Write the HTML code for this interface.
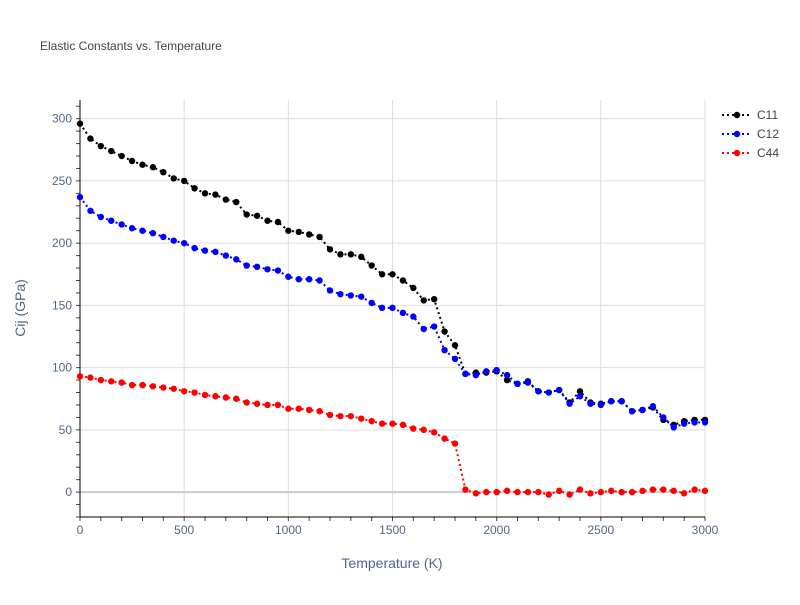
<!DOCTYPE html>
<html><head><meta charset="utf-8"><style>
body{margin:0;background:#fff;font-family:"Liberation Sans",Arial,sans-serif}
svg text{font-family:"Liberation Sans",Arial,sans-serif}
</style></head><body>
<svg id="chart" width="800" height="600" xmlns="http://www.w3.org/2000/svg">
<rect width="800" height="600" fill="#fff"/>
<text x="40" y="50" font-size="12" fill="#444">Elastic Constants vs. Temperature</text>
<g id="grid"></g><g id="axes"></g><g id="series"></g><g id="legend"></g>
<text x="392" y="568" font-size="14" fill="#506784" text-anchor="middle">Temperature (K)</text>
<text transform="translate(25,308) rotate(-90)" font-size="14" fill="#506784" text-anchor="middle">Cij (GPa)</text>
</svg>
<script>
const temps=[];for(let t=0;t<=3000;t+=50)temps.push(t);
const c11=[296,284,278,274,270,266,263,261,257,252,250,244,240,239,235,233,223,222,218,217,210,209,207,205,195,191,191,189,182,175,175,170,164,154,155,129,118,95,96,96,97,90,87,89,81,80,82,72,81,72,71,73,73,65,66,68,58,54,57,58,58];
const c12=[237,226,221,218,215,212,210,208,205,202,200,196,194,193,190,187,182,181,179,178,173,171,171,170,162,159,158,157,152,148,148,144,141,131,133,114,107,95,94,97,98,94,87,88,81,80,82,71,77,71,70,73,73,65,66,69,60,52,55,56,56];
const c44=[93,92,90,89,88,86,86,85,84,83,81,80,78,77,76,75,72,71,70,70,67,67,66,65,62,61,61,59,57,55,55,54,51,50,48,43,39,2,-1,0,0,1,0,0,0,-2,1,-2,2,-1,0,1,0,0,1,2,2,1,-1,2,1];
const seriesNames=["C11","C12","C44"];
const seriesColors=["#000","#00f","#f00"];
const xTicks=[0,500,1000,1500,2000,2500,3000];
const yTicks=[0,50,100,150,200,250,300];
const X0=80,X1=705,Y0=517,Y1=100,xMin=0,xMax=3000,yMin=-20,yMax=315;
const NS="http://www.w3.org/2000/svg";
const xs=v=>X0+(v-xMin)/(xMax-xMin)*(X1-X0);
const ys=v=>Y0-(v-yMin)/(yMax-yMin)*(Y0-Y1);
function mk(tag,attrs,parent){const e=document.createElementNS(NS,tag);for(const k in attrs)e.setAttribute(k,attrs[k]);parent.appendChild(e);return e;}
const grid=document.getElementById('grid'),axes=document.getElementById('axes');
xTicks.forEach(t=>{const l=mk('line',{x1:xs(t),x2:xs(t),y1:Y1,y2:Y0,stroke:'#ddd'},grid);


const tx=mk('text',{x:xs(t),y:Y0+17,'font-size':12,fill:'#506784','text-anchor':'middle'},axes);tx.textContent=t;

});
yTicks.forEach(t=>{const l=mk('line',{x1:X0,x2:X1,y1:ys(t),y2:ys(t),stroke:t===0?'#ccc':'#ddd','stroke-width':t===0?2:1},grid);


const tx=mk('text',{x:X0-8,y:ys(t)+4,'font-size':12,fill:'#506784','text-anchor':'end'},axes);tx.textContent=t;

});
for(let v=-20;v<=310;v+=10){const tk=mk('line',{x1:X0-4,x2:X0,y1:ys(v),y2:ys(v),stroke:'#444'},axes);

}
for(let v=0;v<=3000;v+=100){const tk=mk('line',{x1:xs(v),x2:xs(v),y1:Y0,y2:Y0+4,stroke:'#444'},axes);

}
const ax=mk('line',{x1:X0,x2:X0,y1:Y1,y2:Y0,stroke:'#000'},axes);


const axb=mk('line',{x1:X0,x2:X1,y1:Y0,y2:Y0,stroke:'#000'},axes);


const ser=document.getElementById('series'),leg=document.getElementById('legend');
[c11,c12,c44].forEach((d,i)=>{const g=mk('g',{},ser);


const p=mk('polyline',{points:d.map((v,j)=>xs(temps[j])+','+ys(v)).join(' '),fill:'none',stroke:seriesColors[i],'stroke-width':2,'stroke-dasharray':'2,3'},g);


d.forEach((v,j)=>{const c=mk('circle',{cx:xs(temps[j]),cy:ys(v),r:3.2,fill:seriesColors[i]},g);

});
const ly=115+i*19;const lg=mk('g',{},leg);


mk('line',{x1:722,x2:752,y1:ly,y2:ly,stroke:seriesColors[i],'stroke-width':2,'stroke-dasharray':'2,3'},lg);
mk('circle',{cx:737,cy:ly,r:3.2,fill:seriesColors[i]},lg);
const t=mk('text',{x:757,y:ly+4,'font-size':12,fill:'#444'},lg);t.textContent=seriesNames[i];});
</script>
</body></html>
